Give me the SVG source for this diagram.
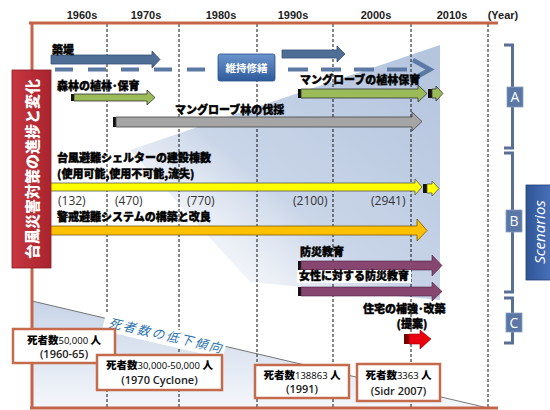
<svg xmlns="http://www.w3.org/2000/svg" width="550" height="410" viewBox="0 0 550 410">
<defs>
<linearGradient id="bgBlue" x1="0" y1="1" x2="1" y2="0">
<stop offset="0" stop-color="#ffffff" stop-opacity="0"/>
<stop offset="0.45" stop-color="#c9d5e8"/>
<stop offset="1" stop-color="#b3c4de"/>
</linearGradient>
<linearGradient id="lowBlue" x1="0" y1="0" x2="0" y2="1">
<stop offset="0" stop-color="#c8d4e8"/>
<stop offset="1" stop-color="#f4f7fb"/>
</linearGradient>
<linearGradient id="redBox" x1="0" y1="0" x2="1" y2="0">
<stop offset="0" stop-color="#c8363f"/>
<stop offset="1" stop-color="#a8242f"/>
</linearGradient>
<linearGradient id="blueBtn" x1="0" y1="0" x2="0" y2="1">
<stop offset="0" stop-color="#6a94cc"/>
<stop offset="1" stop-color="#2f5b9c"/>
</linearGradient>
<linearGradient id="scen" x1="0" y1="0" x2="1" y2="0">
<stop offset="0" stop-color="#2f5597"/>
<stop offset="1" stop-color="#4a72b8"/>
</linearGradient>
</defs>
<style>
.yr{font-family:"Liberation Sans",Arial,sans-serif;font-weight:bold;font-size:11px;fill:#222;text-anchor:middle}
.ax{stroke:#c4654a;stroke-width:3;fill:none}
.grid{stroke:#111;stroke-width:1;stroke-dasharray:3 2;fill:none}
.lbl{font-family:"Noto Sans CJK JP","Noto Sans",sans-serif;font-weight:900;font-size:11px;fill:#000;stroke:#000;stroke-width:0.4}
.num{font-family:"Open Sans","Noto Sans",sans-serif;font-size:12px;fill:#333}
.box{fill:#fff;stroke:#c46b4c;stroke-width:2.5}
.bt{font-family:"Noto Sans CJK JP","Noto Sans",sans-serif;font-weight:900;font-size:10.5px;fill:#000;text-anchor:middle}
.bn{font-family:"Open Sans","Noto Sans",sans-serif;font-weight:normal;font-size:9.5px}
.b2{font-family:"Open Sans","Noto Sans",sans-serif;font-weight:600;font-size:11px;fill:#222;text-anchor:middle}
.br{stroke:#5a6f96;stroke-width:3;fill:none}
.bl{fill:#5a77a5;stroke:#8da0c0;stroke-width:0.8}
.bltx{font-family:"Open Sans","Liberation Sans",sans-serif;font-size:14px;fill:#fff;text-anchor:middle}
.bar{fill:#111}
</style>
<rect width="550" height="410" fill="#fff"/>
<!-- background shapes -->
<polygon points="130,150 440,45 440,300 250,282" fill="url(#bgBlue)"/>
<polygon points="32,301 488,408 32,408" fill="url(#lowBlue)"/>
<line x1="32" y1="301" x2="488" y2="408" stroke="#555" stroke-width="0.8"/>
<!-- axes and grid -->
<g id="grid">
<line class="grid" x1="107" y1="24" x2="107" y2="408"/>
<line class="grid" x1="179" y1="24" x2="179" y2="408"/>
<line class="grid" x1="257" y1="24" x2="257" y2="408"/>
<line class="grid" x1="333" y1="24" x2="333" y2="408"/>
<line class="grid" x1="411" y1="24" x2="411" y2="408"/>
<line class="grid" x1="488" y1="24" x2="488" y2="408"/>
</g>
<g id="axes">
<line class="ax" x1="29" y1="23" x2="498" y2="23"/>
<line class="ax" x1="32" y1="23" x2="32" y2="408"/>
<line class="ax" x1="30" y1="408" x2="498" y2="408"/>
</g>
<g id="years">
<text class="yr" x="82" y="19">1960s</text>
<text class="yr" x="146" y="19">1970s</text>
<text class="yr" x="221" y="19">1980s</text>
<text class="yr" x="293" y="19">1990s</text>
<text class="yr" x="376" y="19">2000s</text>
<text class="yr" x="452" y="19">2010s</text>
<text class="yr" x="503" y="19">(Year)</text>
</g>
<!-- trend label background -->
<g transform="translate(106,313) rotate(13)">
<rect x="0" y="0" width="124" height="18" fill="#fff"/>
</g>
<!-- connectors (arrows) -->
<g id="connectors">
<polygon points="51,55 152,55 152,51 160,59.5 152,68 152,64 51,64" fill="#4f6e96" stroke="#34507a" stroke-width="0.8"/>
<polygon points="282,50 337,50 337,46 345,54 337,62 337,58 282,58" fill="#4f6e96" stroke="#34507a" stroke-width="0.8"/>
<line x1="55" y1="69.5" x2="218" y2="69.5" stroke="#5b79a3" stroke-width="4" stroke-dasharray="18 15"/>
<line x1="288" y1="69.5" x2="410" y2="69.5" stroke="#5b79a3" stroke-width="4" stroke-dasharray="20 13"/>
<polyline points="413,60 430,69.5 413,79" fill="none" stroke="#5b79a3" stroke-width="4.5"/>
<rect class="bar" x="71" y="94" width="3" height="7"/>
<polygon points="74,94 147,94 147,90 155,97.5 147,105 147,101 74,101" fill="#9bbb59" stroke="#333" stroke-width="0.8"/>
<rect class="bar" x="298" y="89" width="3" height="9"/>
<polygon points="301,89 418,89 418,85 427,93.5 418,102 418,98 301,98" fill="#9bbb59" stroke="#333" stroke-width="0.8"/>
<rect class="bar" x="428" y="89" width="4" height="9"/>
<polygon points="432,89 436,89 436,86 443,93.5 436,101 436,98 432,98" fill="#9bbb59" stroke="#333" stroke-width="0.8"/>
<rect class="bar" x="113" y="117" width="3" height="10"/>
<polygon points="116,117 412,117 412,112 422,121.5 412,131 412,127 116,127" fill="#a5a5a5" stroke="#444" stroke-width="0.8"/>
<polygon points="50,183 415,183 415,179 422,187 415,195 415,191 50,191" fill="#ffff00" stroke="#555" stroke-width="0.8"/>
<rect class="bar" x="423" y="184" width="4" height="9"/>
<polygon points="427,184 432,184 432,181 439,188.5 432,196 432,193 427,193" fill="#ffff00" stroke="#555" stroke-width="0.8"/>
<polygon points="50,226 417,226 417,219 427,230.5 417,241 417,235 50,235" fill="#ffc000" stroke="#7a5a00" stroke-width="0.8"/>
<rect class="bar" x="298" y="261" width="3" height="9"/>
<polygon points="301,261 432,261 432,255 442,265.5 432,276 432,270 301,270" fill="#86466f" stroke="#4a2040" stroke-width="0.6"/>
<rect class="bar" x="298" y="287" width="3" height="9"/>
<polygon points="301,287 432,287 432,282 442,291.5 432,301 432,296 301,296" fill="#86466f" stroke="#4a2040" stroke-width="0.6"/>
<rect x="404" y="334" width="5" height="10" fill="#7a0000"/>
<polygon points="409,334 420,334 420,330 431,339 420,349 420,344 409,344" fill="#e8000e" stroke="#900" stroke-width="0.6"/>
</g>
<!-- labels -->
<g id="n-embank"><text class="lbl" x="52" y="54" font-size="13">築堤</text></g>
<g id="n-maint">
<rect x="218" y="54" width="57" height="27" rx="2" fill="url(#blueBtn)" stroke="#2a4f88" stroke-width="0.8"/>
<text x="246.5" y="71.5" text-anchor="middle" font-family="Noto Sans CJK JP,sans-serif" font-weight="bold" font-size="10.5" fill="#fff">維持修繕</text>
</g>
<g id="n-forest"><text class="lbl" x="57" y="90">森林の植林･保育</text></g>
<g id="n-mgplant"><text class="lbl" x="300" y="84" font-size="10.5">マングローブの植林保育</text></g>
<g id="n-mgcut"><text class="lbl" x="175" y="114" font-size="12">マングローブ林の伐採</text></g>
<g id="n-shelter">
<text class="lbl" x="57" y="162" font-size="11.4">台風避難シェルターの建設棟数</text>
<text class="lbl" x="57" y="178" font-size="11">(使用可能,使用不可能,流失)</text>
</g>
<g id="n-counts">
<text class="num" x="58" y="205">(132)</text>
<text class="num" x="115" y="205">(470)</text>
<text class="num" x="187" y="205">(770)</text>
<text class="num" x="293" y="205">(2100)</text>
<text class="num" x="371" y="205">(2941)</text>
</g>
<g id="n-warning"><text class="lbl" x="57" y="221" font-size="11.4">警戒避難システムの構築と改良</text></g>
<g id="n-edu"><text class="lbl" x="300" y="256" font-size="11.2">防災教育</text></g>
<g id="n-womenedu">
<rect x="297" y="270" width="114" height="13" fill="#fff"/>
<text class="lbl" x="299" y="280" font-size="11.2">女性に対する防災教育</text>
</g>
<g id="n-housing">
<text class="lbl" x="363" y="313" font-size="12">住宅の補強･改築</text>
<text class="lbl" x="412" y="328" font-size="12" text-anchor="middle">(提案)</text>
</g>
<g id="n-title">
<rect x="12" y="70" width="39" height="198" fill="url(#redBox)" stroke="#8a1a24" stroke-width="0.8"/>
<text transform="translate(32,169) rotate(-90)" x="0" y="5.5" text-anchor="middle" font-family="Noto Sans CJK JP,sans-serif" font-weight="900" font-size="15" fill="#fff">台風災害対策の進捗と変化</text>
</g>
<g id="n-d1">
<rect class="box" x="13" y="329" width="102" height="34"/>
<text class="bt" x="64" y="344">死者数<tspan class="bn">50,000 </tspan>人</text>
<text class="b2" x="64" y="358">(1960-65)</text>
</g>
<g id="n-d2">
<rect class="box" x="97" y="355" width="125" height="35"/>
<text class="bt" x="159.5" y="369">死者数<tspan class="bn">30,000-50,000 </tspan>人</text>
<text class="b2" x="159.5" y="384">(1970 Cyclone)</text>
</g>
<g id="n-d3">
<rect class="box" x="255" y="365" width="94" height="33"/>
<text class="bt" x="302" y="379">死者数<tspan class="bn">138863 </tspan>人</text>
<text class="b2" x="302" y="393" font-size="10">(1991)</text>
</g>
<g id="n-d4">
<rect class="box" x="357" y="364" width="83" height="37"/>
<text class="bt" x="398.5" y="379">死者数<tspan class="bn">3363 </tspan>人</text>
<text class="b2" x="398.5" y="395" font-size="12">(Sidr 2007)</text>
</g>
<g id="trend">
<text transform="translate(106,313) rotate(13)" x="5" y="13" font-family="Noto Sans CJK JP,sans-serif" font-size="12.5" font-style="italic" letter-spacing="2.2" fill="#2a72b0">死者数の低下傾向</text>
</g>
<g id="n-A">
<path class="br" d="M504,45 H512.5 V87 M512.5,107 V148 H504"/>
<rect class="bl" x="507" y="87" width="16" height="20"/>
<text class="bltx" x="515" y="102">A</text>
</g>
<g id="n-B">
<path class="br" d="M504,153 H512.5 V210 M512.5,232 V292 H504"/>
<rect class="bl" x="506" y="210" width="16" height="22"/>
<text class="bltx" x="514" y="226">B</text>
</g>
<g id="n-C">
<path class="br" d="M504,298 H512.5 V313 M512.5,332 V343 H504"/>
<rect class="bl" x="506" y="313" width="16" height="19"/>
<text class="bltx" x="514" y="328">C</text>
</g>
<g id="n-scen">
<rect x="526" y="185" width="26" height="95" fill="url(#scen)" stroke="#1f3f75" stroke-width="0.8"/>
<text transform="translate(539,232) rotate(-90)" x="0" y="5.5" text-anchor="middle" font-family="Open Sans,Liberation Sans,sans-serif" font-style="italic" font-size="15" fill="#fff">Scenarios</text>
</g>
</svg>
